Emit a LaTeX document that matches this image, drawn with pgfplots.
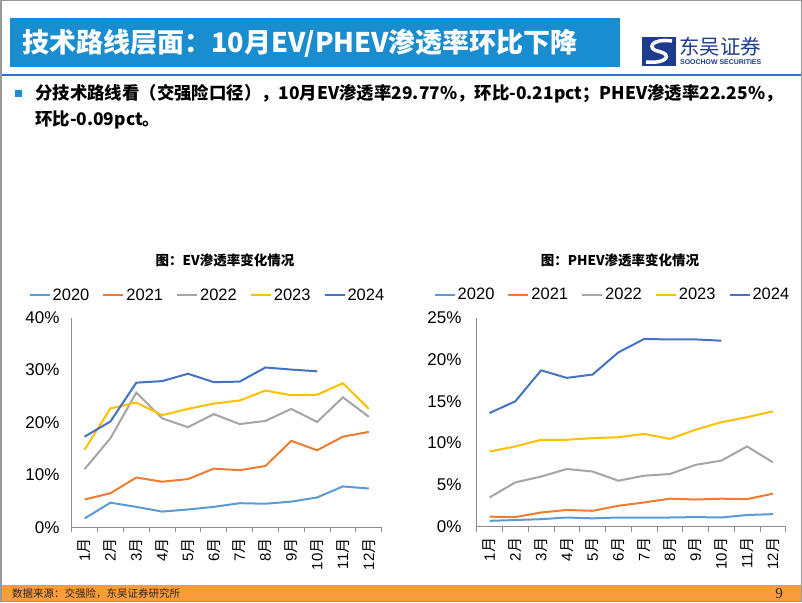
\documentclass[border=0pt]{standalone}
\usepackage{pgfplots}
\pgfplotsset{compat=1.18}
\usepackage{fontspec}
\setmainfont{Liberation Sans}
\newfontfamily\cjk{Noto Sans CJK SC}
\newfontfamily\serifnum{Liberation Serif}
\definecolor{c20}{HTML}{5B9BD5}
\definecolor{c21}{HTML}{ED7D31}
\definecolor{c22}{HTML}{A5A5A5}
\definecolor{c23}{HTML}{FFC000}
\definecolor{c24}{HTML}{4472C4}
\definecolor{axisgray}{HTML}{8C8C8C}
\definecolor{titleblue}{HTML}{1A8DD0}
\definecolor{lineblue}{HTML}{2F75C0}
\definecolor{navy}{HTML}{1F3C8C}
\definecolor{footorange}{HTML}{F89C3C}
\pgfplotsset{
  chartstyle/.style={
    anchor=south west, scale only axis,
    xmin=0.5, xmax=12.5, ymin=0,
    axis lines=left,
    axis line style={-, draw=axisgray, line width=0.8pt},
    xtick={1,...,12},
    xticklabels={1{\cjk 月},2{\cjk 月},3{\cjk 月},4{\cjk 月},5{\cjk 月},6{\cjk 月},7{\cjk 月},8{\cjk 月},9{\cjk 月},10{\cjk 月},11{\cjk 月},12{\cjk 月}},
    major tick length=0pt,
    minor xtick={0.5,1.5,...,12.5},
    minor tick length=5pt, tick align=outside,
    minor x tick style={draw=axisgray, line width=0.8pt},
    xticklabel style={rotate=90, anchor=east, inner sep=0pt, font=\fontsize{15}{15}\selectfont},
    xticklabel shift=11pt,
    yticklabel style={inner sep=0pt, font=\fontsize{17}{17}\selectfont},
    legend style={draw=none, fill=none, inner sep=0pt, legend columns=5,
      font=\fontsize{16.5}{16.5}\selectfont,
      /tikz/every even column/.append style={column sep=11pt}},
    legend image code/.code={\draw[##1, line width=2pt] (0pt,0pt) -- (20pt,0pt);},
    every axis plot/.append style={line width=2pt, no markers},
  }
}
\begin{document}
\begin{tikzpicture}[x=1pt,y=1pt]
\useasboundingbox (0,0) rectangle (802,602);
\fill[white] (0,0) rectangle (802,602);
% header
\fill[titleblue] (10,535) rectangle (620,584);
\node[anchor=west, text=white, inner sep=0pt] at (22,559) {\cjk\bfseries\fontsize{27}{27}\selectfont 技术路线层面：10月EV/PHEV渗透率环比下降};
\draw[lineblue, line width=2.5pt] (0,527) -- (802,527);
% logo
\fill[navy] (642,536) -- (676,536) -- (676,565) -- (642,565) -- cycle;
\draw[white, line width=3.5pt] (672,561) .. controls (651,564) and (646,553) .. (659,550.5) .. controls (672,548) and (668,538) .. (646,540);
\node[anchor=west, text=navy, inner sep=0pt] at (679,555) {\cjk\fontsize{20.5}{20.5}\selectfont 东吴证券};
\node[anchor=west, text=navy, inner sep=0pt] at (680,540) {\resizebox{81pt}{!}{\bfseries SOOCHOW SECURITIES}};
% bullet
\fill[titleblue] (15,505) rectangle (22,512);
\node[anchor=west, inner sep=0pt] at (35,508) {\cjk\bfseries\fontsize{17.4}{17.4}\selectfont 分技术路线看（交强险口径），10月EV渗透率29.77\%，环比-0.21pct；PHEV渗透率22.25\%，};
\node[anchor=west, inner sep=0pt] at (35,482) {\cjk\bfseries\fontsize{17.4}{17.4}\selectfont 环比-0.09pct。};
% chart titles
\node[inner sep=0pt] at (225,342) {\cjk\bfseries\fontsize{13.5}{13.5}\selectfont 图：EV渗透率变化情况};
\node[inner sep=0pt] at (620,342) {\cjk\bfseries\fontsize{13.5}{13.5}\selectfont 图：PHEV渗透率变化情况};

% left chart
\begin{axis}[chartstyle, at={(71.7pt,74.7pt)}, width=310pt, height=209.6pt,
  ymax=40, ytick={0,10,20,30,40}, yticklabels={0\%,10\%,20\%,30\%,40\%},
  yticklabel shift=12pt,
  legend style={at={(0.438,1.108)}, anchor=center}]
\addplot[c20] coordinates {(1,1.7)(2,4.7)(3,3.9)(4,3.0)(5,3.4)(6,3.9)(7,4.6)(8,4.5)(9,4.9)(10,5.7)(11,7.8)(12,7.4)};
\addplot[c21] coordinates {(1,5.3)(2,6.5)(3,9.5)(4,8.7)(5,9.2)(6,11.2)(7,10.9)(8,11.7)(9,16.5)(10,14.7)(11,17.3)(12,18.2)};
\addplot[c22] coordinates {(1,11.1)(2,17.0)(3,25.7)(4,20.8)(5,19.1)(6,21.6)(7,19.7)(8,20.3)(9,22.6)(10,20.1)(11,24.8)(12,21.1)};
\addplot[c23] coordinates {(1,14.8)(2,22.7)(3,23.8)(4,21.4)(5,22.6)(6,23.6)(7,24.2)(8,26.1)(9,25.2)(10,25.3)(11,27.5)(12,22.6)};
\addplot[c24] coordinates {(1,17.3)(2,20.2)(3,27.6)(4,27.9)(5,29.3)(6,27.7)(7,27.8)(8,30.5)(9,30.1)(10,29.77)};
\legend{2020,2021,2022,2023,2024}
\end{axis}

% right chart
\begin{axis}[chartstyle, at={(476.7pt,75.3pt)}, width=309pt, height=209pt,
  ymax=25, ytick={0,5,10,15,20,25}, yticklabels={0\%,5\%,10\%,15\%,20\%,25\%},
  yticklabel shift=15pt,
  legend style={at={(0.4395,1.11)}, anchor=center}]
\addplot[c20] coordinates {(1,0.7)(2,0.8)(3,0.9)(4,1.1)(5,1.0)(6,1.1)(7,1.1)(8,1.1)(9,1.15)(10,1.1)(11,1.4)(12,1.5)};
\addplot[c21] coordinates {(1,1.2)(2,1.15)(3,1.7)(4,2.0)(5,1.9)(6,2.5)(7,2.9)(8,3.35)(9,3.25)(10,3.35)(11,3.3)(12,3.95)};
\addplot[c22] coordinates {(1,3.5)(2,5.3)(3,6.0)(4,6.9)(5,6.6)(6,5.5)(7,6.1)(8,6.3)(9,7.4)(10,7.9)(11,9.6)(12,7.7)};
\addplot[c23] coordinates {(1,9.0)(2,9.6)(3,10.4)(4,10.4)(5,10.6)(6,10.7)(7,11.1)(8,10.5)(9,11.6)(10,12.5)(11,13.1)(12,13.8)};
\addplot[c24] coordinates {(1,13.6)(2,15.0)(3,18.7)(4,17.8)(5,18.2)(6,20.85)(7,22.45)(8,22.4)(9,22.4)(10,22.25)};
\legend{2020,2021,2022,2023,2024}
\end{axis}

% footer
\fill[footorange] (0,0) rectangle (802,17);
\node[anchor=west, inner sep=0pt, text=black!85] at (12,8.5) {\cjk\fontsize{10.5}{10.5}\selectfont 数据来源：交强险，东吴证券研究所};
\node[inner sep=0pt, text=black!85] at (779,8.5) {\serifnum\fontsize{15}{15}\selectfont 9};
\draw[gray!80, line width=1.5pt] (0.75,0.75) rectangle (801.25,601.25);
\end{tikzpicture}
\end{document}
